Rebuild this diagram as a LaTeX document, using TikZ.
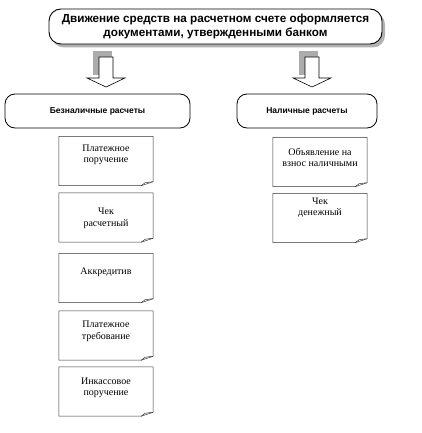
\documentclass[tikz,border=0pt]{standalone}
\usepackage{fontspec}
\setmainfont{Liberation Serif}
\newfontfamily\headfont{Liberation Sans}
\usetikzlibrary{shadows}

\tikzset{
  titlebox/.style={draw, line width=0.9pt, rounded corners=12pt, fill=white,
    minimum width=333pt, minimum height=35pt, align=center, inner sep=0pt,
    font=\headfont\bfseries\fontsize{11.7}{14}\selectfont,
    drop shadow={shadow xshift=3pt, shadow yshift=-3.5pt, fill=gray!60, opacity=1}},
  groupbox/.style={draw, line width=0.8pt, rounded corners=10pt, inner sep=0pt,
    minimum height=34pt, font=\headfont\bfseries\fontsize{8.5}{10}\selectfont},
  docbox/.style={minimum width=94pt, minimum height=49pt, inner sep=0pt},
  doctext/.style={align=center, inner sep=0pt, font=\fontsize{10}{11.5}\selectfont},
  docline/.style={draw=black!80, line width=0.5pt, line join=round},
}

\begin{document}
\begin{tikzpicture}[x=1pt,y=-1pt]
	\useasboundingbox (0,0) rectangle (421,433);
	% top
	\node[titlebox] (title) at (215.5,26.5) {Движение средств на расчетном счете оформляется\\документами, утвержденными банком};
	% block arrows
	\foreach \c in {106,312}{
		\fill[gray!65] (\c-13,51) rectangle (\c+6,75);
		\draw[fill=white, line width=0.6pt, line join=miter] (\c-7,57) -- (\c+7,57) -- (\c+7,78) -- (\c+19,78) -- (\c,87) -- (\c-19,78) -- (\c-7,78) -- cycle;
	}
	% groups
	\node[groupbox, minimum width=185pt] (beznal) at (97.5,111) {Безналичные расчеты};
	\node[groupbox, minimum width=140pt] (nal) at (307,111) {Наличные расчеты};
	% documents
	\node[docbox] (plat) at (106,161) {};
	\node[docbox] (chekr) at (106,217.5) {};
	\node[docbox] (akkr) at (106,278) {};
	\node[docbox] (treb) at (106,335.5) {};
	\node[docbox] (inkas) at (106,391.5) {};
	\node[docbox] (obyav) at (320,162) {};
	\node[docbox] (chekd) at (320,218) {};
	\foreach \doc in {plat,chekr,akkr,treb,inkas,obyav,chekd}{
		\draw[docline] (\doc.north west) -- (\doc.north east) -- ([yshift=4pt]\doc.south east)
			-- ([xshift=-12pt]\doc.south east) -- (\doc.south west) -- cycle;
		\draw[docline] ([yshift=4pt]\doc.south east) -- ([xshift=-8pt,yshift=3pt]\doc.south east)
			-- ([xshift=-12pt]\doc.south east);
	}
	\node[doctext] (platT) at (106,155) {Платежное\\поручение};
	\node[doctext] (chekrT) at (106,218.5) {Чек\\расчетный};
	\node[doctext] (akkrT) at (106,272) {Аккредитив};
	\node[doctext] (trebT) at (106,331.5) {Платежное\\требование};
	\node[doctext] (inkasT) at (106,388) {Инкассовое\\поручение};
	\node[doctext] (obyavT) at (320,157.5) {Объявление на\\взнос наличными};
	\node[doctext] (chekdT) at (320,207.5) {Чек\\денежный};
\end{tikzpicture}
\end{document}
